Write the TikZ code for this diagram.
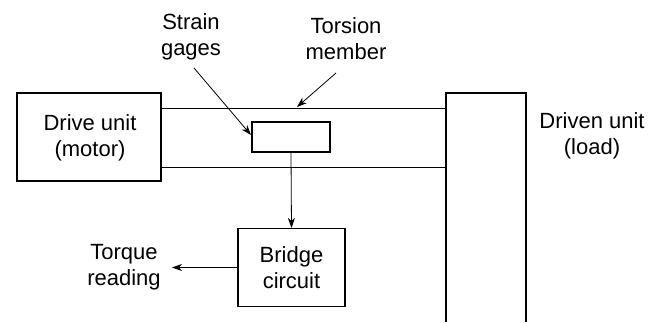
\documentclass[tikz,border=0pt]{standalone}
\usepackage{fontspec}
\setmainfont{Liberation Sans}
\usepackage{tikz}
\usetikzlibrary{positioning, arrows.meta}

\tikzset{
  unitbox/.style={draw, line width=1.1pt, inner sep=0pt},
  caption/.style={align=center, font=\fontsize{22}{26}\selectfont, inner sep=0pt},
  shaft/.style={line width=0.7pt},
  pointer/.style={-{Stealth[length=10pt, width=7pt, inset=3pt]}, line width=0.8pt}
}

\begin{document}
\begin{tikzpicture}[x=1pt, y=-1pt]
    \useasboundingbox (0,0) rectangle (657,322);
    % boxes
    \node[unitbox, minimum width=144pt, minimum height=88pt] (drive) at (89,137) {};
    \node[caption] (drivetext) at (90,138) {Drive unit\\(motor)};
    \node[unitbox, minimum width=78pt, minimum height=30pt] (gage) at (291,137) {};
    \node[unitbox, minimum width=107pt, minimum height=78pt, caption] (bridge) at (291.5,267.5) {Bridge\\circuit};
    \draw[line width=1.1pt] (446,322) -- (446,93) -- (526,93) -- (526,322);
    \coordinate (driven top) at (446,108);
    \coordinate (driven bot) at (446,167);
    \node[caption] (driventext) at (592,136) {Driven unit\\(load)};
    % torsion member
    \draw[shaft] (drive.east |- driven top) -- (driven top);
    \draw[shaft] (drive.east |- driven bot) -- (driven bot);
    % labels
    \node[caption] (strain) at (191,37) {Strain\\gages};
    \node[caption] (torsion) at (346,39) {Torsion\\member};
    \node[caption] (torque) at (124,267) {Torque\\reading};
    \coordinate (shafthit) at (297,107);
    % arrows
    \draw[pointer] (194,68) -- (251,135);
    \draw[pointer] (336,73) -- (shafthit);
    \draw[pointer] (gage.south) -- (bridge.north);
    \draw[pointer] (bridge.west) -- (172,267.5);
\end{tikzpicture}
\end{document}
